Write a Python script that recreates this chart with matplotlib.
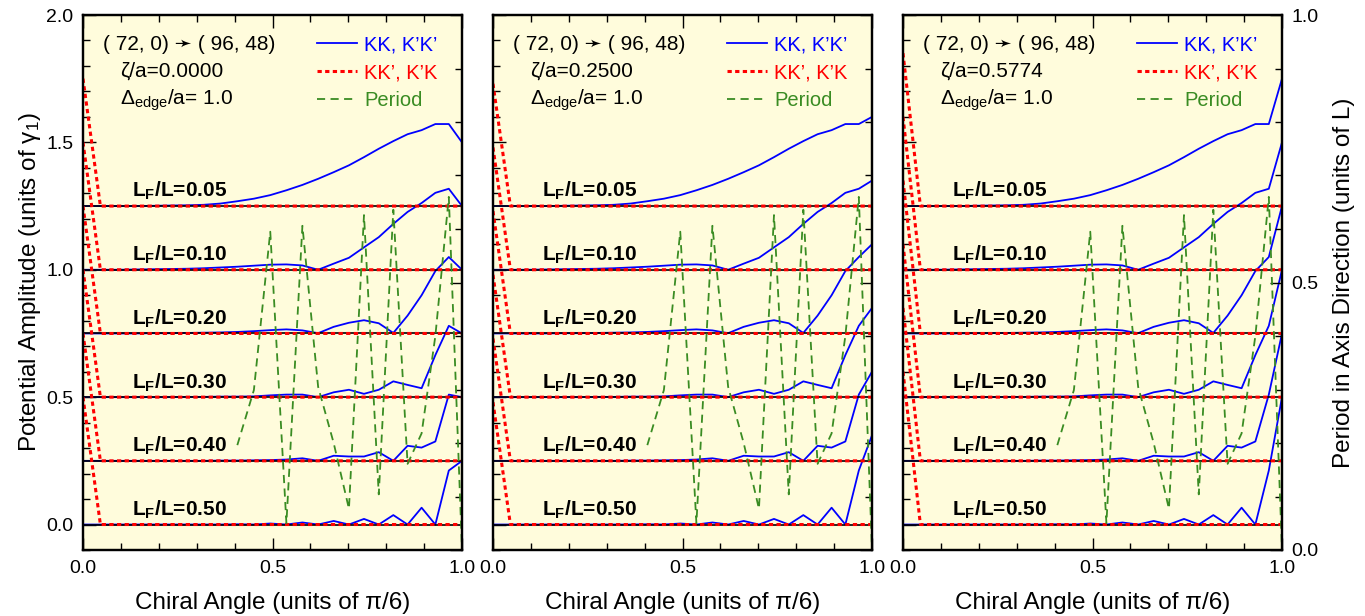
import matplotlib.pyplot as plt
from matplotlib.ticker import MultipleLocator, FormatStrFormatter
from matplotlib.lines import Line2D

# ---------------------------------------------------------------
# Data
# ---------------------------------------------------------------

# chiral angle of the tubes (72+k, 2k), k = 0..24, in units of pi/6
CHIRAL_ANGLE = [0.0, 0.0459, 0.0918, 0.1376, 0.1832, 0.2286, 0.2738, 0.3186,
                0.3631, 0.4072, 0.4509, 0.4941, 0.5367, 0.5789, 0.6204, 0.6614,
                0.7017, 0.7414, 0.7804, 0.8188, 0.8564, 0.8934, 0.9297, 0.9652, 1.0]

LF_LABELS = ['0.05', '0.10', '0.20', '0.30', '0.40', '0.50']
BASELINES = [1.25, 1.00, 0.75, 0.50, 0.25, 0.00]   # vertical offset of each L_F/L curve

# KK, K'K' amplitude above the baseline for k = 0..23 (same in all panels)
KK_005 = [0, 0, 0, 0, 0.001, 0.002, 0.003, 0.005, 0.010, 0.019, 0.029, 0.043,
          0.062, 0.083, 0.107, 0.133, 0.160, 0.192, 0.225, 0.255, 0.282, 0.298, 0.322, 0.322]
KK_010 = [0, 0, 0, 0.001, 0.002, 0.003, 0.004, 0.006, 0.009, 0.012, 0.016, 0.020,
          0.021, 0.017, 0.0, 0.024, 0.047, 0.088, 0.128, 0.180, 0.227, 0.262, 0.302, 0.318]
KK_020 = [0, 0, 0, 0, 0.001, 0.001, 0.002, 0.003, 0.004, 0.006, 0.009, 0.013,
          0.016, 0.012, 0.001, 0.026, 0.042, 0.052, 0.040, 0.002, 0.070, 0.150, 0.245, 0.300]
KK_030 = [0, 0, 0, 0, 0, 0, 0.001, 0.001, 0.002, 0.002, 0.003, 0.007,
          0.010, 0.010, 0.0, 0.019, 0.029, 0.013, 0.029, 0.062, 0.048, 0.035, 0.165, 0.280]
KK_040 = [0, 0, 0, 0, 0, 0, 0, 0, 0.001, 0.001, 0.002, 0.003,
          0.005, 0.010, 0.0, 0.020, 0.017, 0.017, 0.034, 0.0, 0.059, 0.052, 0.076, 0.260]
KK_050 = [0, 0, 0, 0, 0, 0, 0, 0, 0, 0.001, 0, 0.004,
          0, 0.008, 0, 0.014, 0, 0.022, 0, 0.037, 0, 0.066, 0, 0.212]
KK_LEVELS = [KK_005, KK_010, KK_020, KK_030, KK_040, KK_050]

# per panel
ZETA = ['0.0000', '0.2500', '0.5774']
KK_ARMCHAIR = [0.25, 0.35, 0.50]    # KK amplitude at chiral angle 1.0
KKP_ZIGZAG = [0.50, 0.48, 0.60]     # KK' amplitude at chiral angle 0.0

# period in axis direction (units of L), defined from k = 9 on
PERIOD_ANGLE = CHIRAL_ANGLE[9:]
PERIOD = [0.196, 0.299, 0.595, 0.050, 0.606, 0.305, 0.200, 0.077, 0.626, 0.104,
          0.636, 0.161, 0.218, 0.400, 0.660, 0.0]

# ---------------------------------------------------------------
# Style
# ---------------------------------------------------------------

plt.rcParams['font.family'] = ['Liberation Sans', 'DejaVu Sans']
plt.rcParams['mathtext.fontset'] = 'custom'
plt.rcParams['mathtext.rm'] = 'Liberation Sans'
plt.rcParams['mathtext.it'] = 'Liberation Sans:italic'
plt.rcParams['mathtext.bf'] = 'Liberation Sans:bold'

BG = '#fffcdc'
BLUE = '#0000ff'
RED = '#ff0000'
GREEN = '#3a8c23'
RED_DOTS = (0, (1.4, 1.1))
GREEN_DASH = (0, (4.5, 3))


def style_ticks(axis):
    axis.tick_params(which='both', direction='in', labelsize=14, pad=7)
    axis.tick_params(which='major', length=9, width=1.0)
    axis.tick_params(which='minor', length=5, width=1.0)


fig = plt.figure(figsize=(13.65, 6.16), dpi=100)
lefts = [83, 493, 903]

for i, left in enumerate(lefts):
    ax = fig.add_axes([left / 1365, 66 / 616, 379 / 1365, 535 / 616])
    ax.set_facecolor(BG)
    ax2 = ax.twinx()

    # curves
    for j, base in enumerate(BASELINES):
        kk = [base + v for v in KK_LEVELS[j]] + [base + KK_ARMCHAIR[i]]
        kkp = [base + KKP_ZIGZAG[i]] + [base] * (len(CHIRAL_ANGLE) - 1)
        ax.plot(CHIRAL_ANGLE, kk, color=BLUE, lw=1.3, zorder=3)
        ax.axhline(base, color='black', lw=1.2, zorder=3.5)
        ax.plot(CHIRAL_ANGLE, kkp, color=RED, lw=2.2, ls=RED_DOTS, zorder=4)
        ax.text(0.129, base + 0.035, 'L$_\\mathbf{F}$/L=' + LF_LABELS[j],
                fontsize=15, fontweight='bold', va='baseline', zorder=5)

    ax2.plot(PERIOD_ANGLE, PERIOD, color=GREEN, lw=1.3, ls=GREEN_DASH)

    # annotations
    ax.text(0.053, 0.935, '( 72, 0) \u279b ( 96, 48)', transform=ax.transAxes,
            fontsize=15, va='baseline')
    ax.text(0.098, 0.884, '\u03b6/a=' + ZETA[i], transform=ax.transAxes,
            fontsize=15, va='baseline')
    ax.text(0.098, 0.832, '\u0394$_{\\rm edge}$/a= 1.0', transform=ax.transAxes,
            fontsize=15, va='baseline')

    handles = [Line2D([], [], color=BLUE, lw=1.3),
               Line2D([], [], color=RED, lw=2.2, ls=RED_DOTS),
               Line2D([], [], color=GREEN, lw=1.3, ls=GREEN_DASH)]
    ax.legend(handles, ['KK, K\u2019K\u2019', 'KK\u2019, K\u2019K', 'Period'],
              loc='upper left', bbox_to_anchor=(0.617, 0.962), frameon=False,
              fontsize=14.5, handlelength=2.0, handletextpad=0.35,
              labelspacing=0.45, borderpad=0, borderaxespad=0,
              labelcolor='linecolor')

    # axes
    ax.set_xlim(0, 1)
    ax.set_ylim(-0.1, 2.0)
    ax2.set_ylim(0, 1)
    ax.xaxis.set_major_locator(MultipleLocator(0.5))
    ax.xaxis.set_minor_locator(MultipleLocator(0.1))
    ax.yaxis.set_major_locator(MultipleLocator(0.5))
    ax.yaxis.set_minor_locator(MultipleLocator(0.1))
    ax2.yaxis.set_major_locator(MultipleLocator(0.5))
    ax2.yaxis.set_minor_locator(MultipleLocator(0.1))
    for a in (ax.xaxis, ax.yaxis, ax2.yaxis):
        a.set_major_formatter(FormatStrFormatter('%.1f'))
    style_ticks(ax)
    style_ticks(ax2)
    ax.tick_params(which='both', top=True, right=False)
    if i > 0:
        ax.tick_params(labelleft=False)
    if i < 2:
        ax2.tick_params(labelright=False)
    for a in (ax, ax2):
        for s in a.spines.values():
            s.set_linewidth(1.6)

    ax.set_xlabel('Chiral Angle (units of \u03c0/6)', fontsize=17.5, labelpad=11)
    if i == 0:
        ax.set_ylabel('Potential Amplitude (units of \u03b3$_1$)', fontsize=17.5,
                      labelpad=2)
    if i == 2:
        ax2.set_ylabel('Period in Axis Direction (units of L)', fontsize=17.5,
                       labelpad=10)

fig.savefig('out.png', dpi=100)
